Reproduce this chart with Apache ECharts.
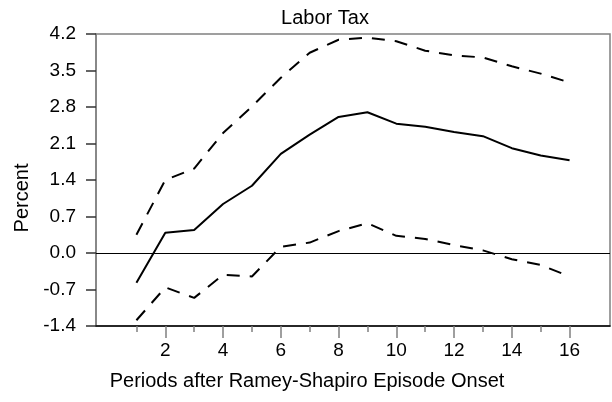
<!DOCTYPE html>
<html>
<head>
<meta charset="utf-8">
<script src="https://cdn.jsdelivr.net/npm/echarts@6/dist/echarts.min.js"></script>
<style>
html,body{margin:0;padding:0;background:#fff;}
#c{width:612px;height:402px;}
</style>
</head>
<body>
<div id="c"></div>
<script>
const periods = [1,2,3,4,5,6,7,8,9,10,11,12,13,14,15,16];
const irf   = [-0.57, 0.39, 0.44, 0.94, 1.29, 1.90, 2.27, 2.61, 2.70, 2.48, 2.42, 2.32, 2.24, 2.01, 1.87, 1.78];
const upper = [0.35, 1.40, 1.62, 2.30, 2.81, 3.36, 3.84, 4.09, 4.13, 4.06, 3.88, 3.79, 3.75, 3.58, 3.44, 3.27];
const lower = [-1.29, -0.66, -0.86, -0.42, -0.45, 0.12, 0.20, 0.42, 0.57, 0.33, 0.27, 0.15, 0.05, -0.12, -0.23, -0.45];
const xLabelValues = [2,4,6,8,10,12,14,16];
const xMinorValues = [1,3,5,7,9,11,13,15];
const titleText = 'Labor Tax';
const xName = 'Periods after Ramey-Shapiro Episode Onset';
const yName = 'Percent';

const font = 'Liberation Sans, Arial, sans-serif';
const pair = (a) => periods.map((p, i) => [p, a[i]]);

const chart = echarts.init(document.getElementById('c'), null, {renderer: 'canvas'});
chart.setOption({
  animation: false,
  backgroundColor: '#fff',
  title: {
    text: titleText, left: 320, top: 3, textAlign: 'center',
    textStyle: {fontFamily: font, fontSize: 20, fontWeight: 'normal', color: '#000'}
  },
  graphic: [
    {type: 'text', x: 307, y: 391, style: {text: xName, font: '20px ' + font, fill: '#000', textAlign: 'center', textVerticalAlign: 'bottom'}},
    {type: 'text', x: 22, y: 198, rotation: Math.PI / 2, style: {text: yName, font: '20px ' + font, fill: '#000', textAlign: 'center', textVerticalAlign: 'middle'}}
  ],
  grid: {left: 96, right: 2, top: 34, bottom: 76, show: true, borderColor: '#808080', borderWidth: 1.5, backgroundColor: 'transparent'},
  xAxis: [
    {
      type: 'value', min: -0.4, max: 17.4, position: 'bottom',
      axisLine: {show: true, onZero: false, lineStyle: {color: '#000', width: 1.5}},
      axisTick: {show: true, length: 12, customValues: xLabelValues, lineStyle: {color: '#808080', width: 1.5}},
      axisLabel: {show: true, customValues: xLabelValues, margin: 15, fontFamily: font, fontSize: 19, color: '#000'},
      splitLine: {show: false}
    },
    {
      type: 'value', min: -0.4, max: 17.4, position: 'bottom',
      axisLine: {show: false, onZero: false},
      axisTick: {show: true, length: 6, customValues: xMinorValues, lineStyle: {color: '#808080', width: 1.5}},
      axisLabel: {show: false},
      splitLine: {show: false}
    }
  ],
  yAxis: {
    type: 'value', min: -1.4, max: 4.2, interval: 0.7,
    axisLine: {show: true, onZero: false, lineStyle: {color: '#808080', width: 1.5}},
    axisTick: {show: true, length: 10, lineStyle: {color: '#333', width: 1.5}},
    axisLabel: {margin: 20, fontFamily: font, fontSize: 19, color: '#000', formatter: (v) => (Math.abs(v) < 1e-9 ? 0 : v).toFixed(1)},
    splitLine: {show: false}
  },
  series: [
    {
      type: 'line', data: pair(irf), showSymbol: false, symbol: 'none',
      lineStyle: {color: '#000', width: 2},
      markLine: {silent: true, symbol: 'none', label: {show: false}, lineStyle: {color: '#000', width: 1, type: 'solid'}, data: [{yAxis: 0}]}
    },
    {type: 'line', data: pair(upper), symbol: 'none', lineStyle: {color: '#000', width: 2, type: [13, 10]}},
    {type: 'line', data: pair(lower), symbol: 'none', lineStyle: {color: '#000', width: 2, type: [13, 10]}}
  ]
});
</script>
</body>
</html>
